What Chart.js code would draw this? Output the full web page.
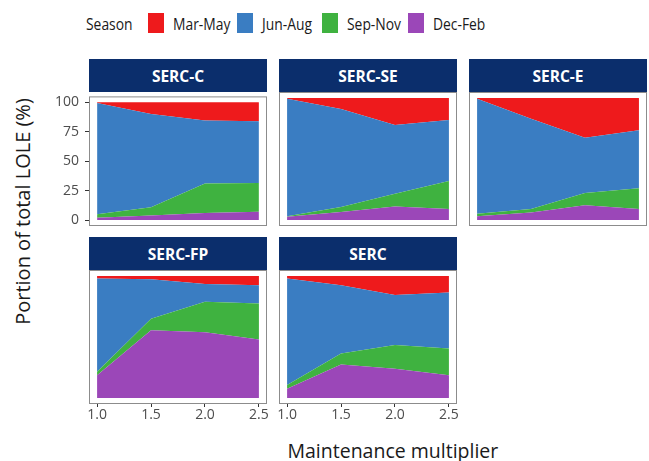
<!DOCTYPE html>
<html>
<head>
<meta charset="utf-8">
<script src="https://cdn.jsdelivr.net/npm/chart.js@4/dist/chart.umd.min.js"></script>
<style>
  html, body { margin: 0; padding: 0; background: #fff; }
  body { width: 649px; height: 461px; position: relative; overflow: hidden; font-family: "Open Sans", sans-serif; }
  .abs { position: absolute; }
  .strip { position: absolute; background: #0b2e6c; color: #fff; font-weight: bold; font-size: 15.5px;
           display: flex; align-items: center; justify-content: center; }
  .legend-text { position: absolute; font-size: 16.5px; color: #1a1a1a; line-height: 20px;
                 white-space: nowrap; transform: scaleX(0.84); transform-origin: left center; }
  .swatch { position: absolute; width: 16px; height: 20px; }
  .axis-title { position: absolute; color: #1a1a1a; white-space: nowrap; }
</style>
</head>
<body>
<script>
'use strict';

// x values and tick labels
const multipliers = [1.0, 1.5, 2.0, 2.5];
const yTickValues = [0, 25, 50, 75, 100];

// stack order, bottom to top
const seasons = ['Dec-Feb', 'Sep-Nov', 'Jun-Aug', 'Mar-May'];
const seasonColors = ['#9b47b8', '#3fb240', '#3a7dc2', '#ee1a1c'];
const legendOrder = ['Mar-May', 'Jun-Aug', 'Sep-Nov', 'Dec-Feb'];

// share of LOLE (%) per season, rows follow `seasons`
const sercC = [
    [2, 4, 6, 7],
    [3, 7, 25, 24.5],
    [94.5, 79, 53.5, 52.5],
    [0.5, 10, 15.5, 16]
];
const sercSE = [
    [2.5, 6.5, 11, 9],
    [0.5, 4, 10.5, 23],
    [96.5, 80.5, 56.5, 50],
    [0.5, 9, 22, 18]
];
const sercE = [
    [3, 6, 12, 9],
    [2, 3, 10, 17],
    [94.5, 74, 45.5, 47.5],
    [0.5, 17, 32.5, 26.5]
];
const sercFP = [
    [18.5, 55.5, 54, 48],
    [3, 9.5, 25, 29.5],
    [76.5, 32.5, 14.5, 15],
    [2, 2.5, 6.5, 7.5]
];
const serc = [
    [7.5, 27.5, 24, 18.5],
    [3, 9, 19.5, 22],
    [87.5, 56, 41, 46],
    [2, 7.5, 15.5, 13.5]
];

const panelNames = ['SERC-C', 'SERC-SE', 'SERC-E', 'SERC-FP', 'SERC'];
const panelData = [sercC, sercSE, sercE, sercFP, serc];

// layout
const colLeft = [89, 279, 469];
const rowTop = [92, 270];
const frameW = 178, frameH = 134, stripH = 33;
const padL = 45, padT = 10, padR = 4, padB = 26;

const tickColor = '#4d4d4d';
const tickFont = { family: 'Open Sans', size: 14 };

const framePlugin = {
    id: 'panelFrame',
    afterDraw(chart) {
        const a = chart.chartArea;
        const ctx = chart.ctx;
        ctx.save();
        ctx.strokeStyle = '#8c8c8c';
        ctx.lineWidth = 1;
        ctx.strokeRect(a.left + 0.5, a.top + 0.5, a.right - a.left - 1, a.bottom - a.top - 1);
        ctx.restore();
    }
};

function addDiv(cls, left, top, width, height, text) {
    const d = document.createElement('div');
    d.className = cls;
    d.style.left = left + 'px';
    d.style.top = top + 'px';
    if (width != null) d.style.width = width + 'px';
    if (height != null) d.style.height = height + 'px';
    if (text != null) d.textContent = text;
    document.body.appendChild(d);
    return d;
}

function makePanel(idx) {
    const col = idx % 3, row = Math.floor(idx / 3);
    const l = colLeft[col], t = rowTop[row];
    const showY = idx === 0;
    const showX = row === 1;

    addDiv('strip', l, t - stripH, frameW, stripH, panelNames[idx]);

    const canvas = document.createElement('canvas');
    canvas.className = 'abs';
    const cw = frameW + padL + padR, ch = frameH + padT + padB;
    canvas.width = cw; canvas.height = ch;
    canvas.style.left = (l - padL) + 'px';
    canvas.style.top = (t - padT) + 'px';
    canvas.style.width = cw + 'px';
    canvas.style.height = ch + 'px';
    document.body.appendChild(canvas);

    const rows = panelData[idx];
    const datasets = seasons.map((s, i) => ({
        label: s,
        data: multipliers.map((x, j) => ({ x, y: rows[i][j] })),
        backgroundColor: seasonColors[i],
        borderWidth: 0,
        pointRadius: 0,
        tension: 0,
        fill: i === 0 ? 'origin' : '-1'
    }));

    new Chart(canvas, {
        type: 'line',
        data: { datasets },
        options: {
            responsive: false,
            animation: false,
            layout: {
                autoPadding: false,
                padding: {
                    left: showY ? 0 : padL,
                    top: padT,
                    right: padR,
                    bottom: showX ? 0 : padB
                }
            },
            plugins: { legend: { display: false }, tooltip: { enabled: false } },
            scales: {
                x: {
                    type: 'linear',
                    display: showX,
                    min: 0.925,
                    max: 2.575,
                    afterBuildTicks: s => { s.ticks = multipliers.map(v => ({ value: v })); },
                    afterFit: s => { if (showX) s.height = padB; },
                    border: { display: false },
                    grid: { drawOnChartArea: false, drawTicks: true, tickLength: 3, color: '#333' },
                    ticks: {
                        color: tickColor,
                        font: tickFont,
                        padding: 0,
                        maxRotation: 0,
                        callback: v => v.toFixed(1)
                    }
                },
                y: {
                    display: showY,
                    stacked: true,
                    min: -5,
                    max: 105,
                    afterBuildTicks: s => { s.ticks = yTickValues.map(v => ({ value: v })); },
                    afterFit: s => { if (showY) s.width = padL; },
                    border: { display: false },
                    grid: { drawOnChartArea: false, drawTicks: true, tickLength: 4, color: '#333' },
                    ticks: { color: tickColor, font: tickFont, padding: 6 }
                }
            }
        },
        plugins: [framePlugin]
    });
}

// legend
addDiv('legend-text', 86, 14, null, null, 'Season');
const swatchX = [148, 237, 322, 408];
legendOrder.forEach((name, i) => {
    const sw = addDiv('swatch', swatchX[i], 13);
    sw.style.background = seasonColors[seasons.indexOf(name)];
    addDiv('legend-text', swatchX[i] + 25, 14, null, null, name);
});

for (let i = 0; i < panelNames.length; i++) makePanel(i);

// axis titles
const xt = addDiv('axis-title', 0, 437, null, null, 'Maintenance multiplier');
xt.style.fontSize = '19.5px';
xt.style.left = (393 - xt.offsetWidth / 2) + 'px';
const yt = addDiv('axis-title', 0, 0, null, null, 'Portion of total LOLE (%)');
yt.style.fontSize = '20px';
yt.style.left = (22 - yt.offsetWidth / 2) + 'px';
yt.style.top = (211 - yt.offsetHeight / 2) + 'px';
yt.style.transform = 'rotate(-90deg)';
</script>
</body>
</html>
